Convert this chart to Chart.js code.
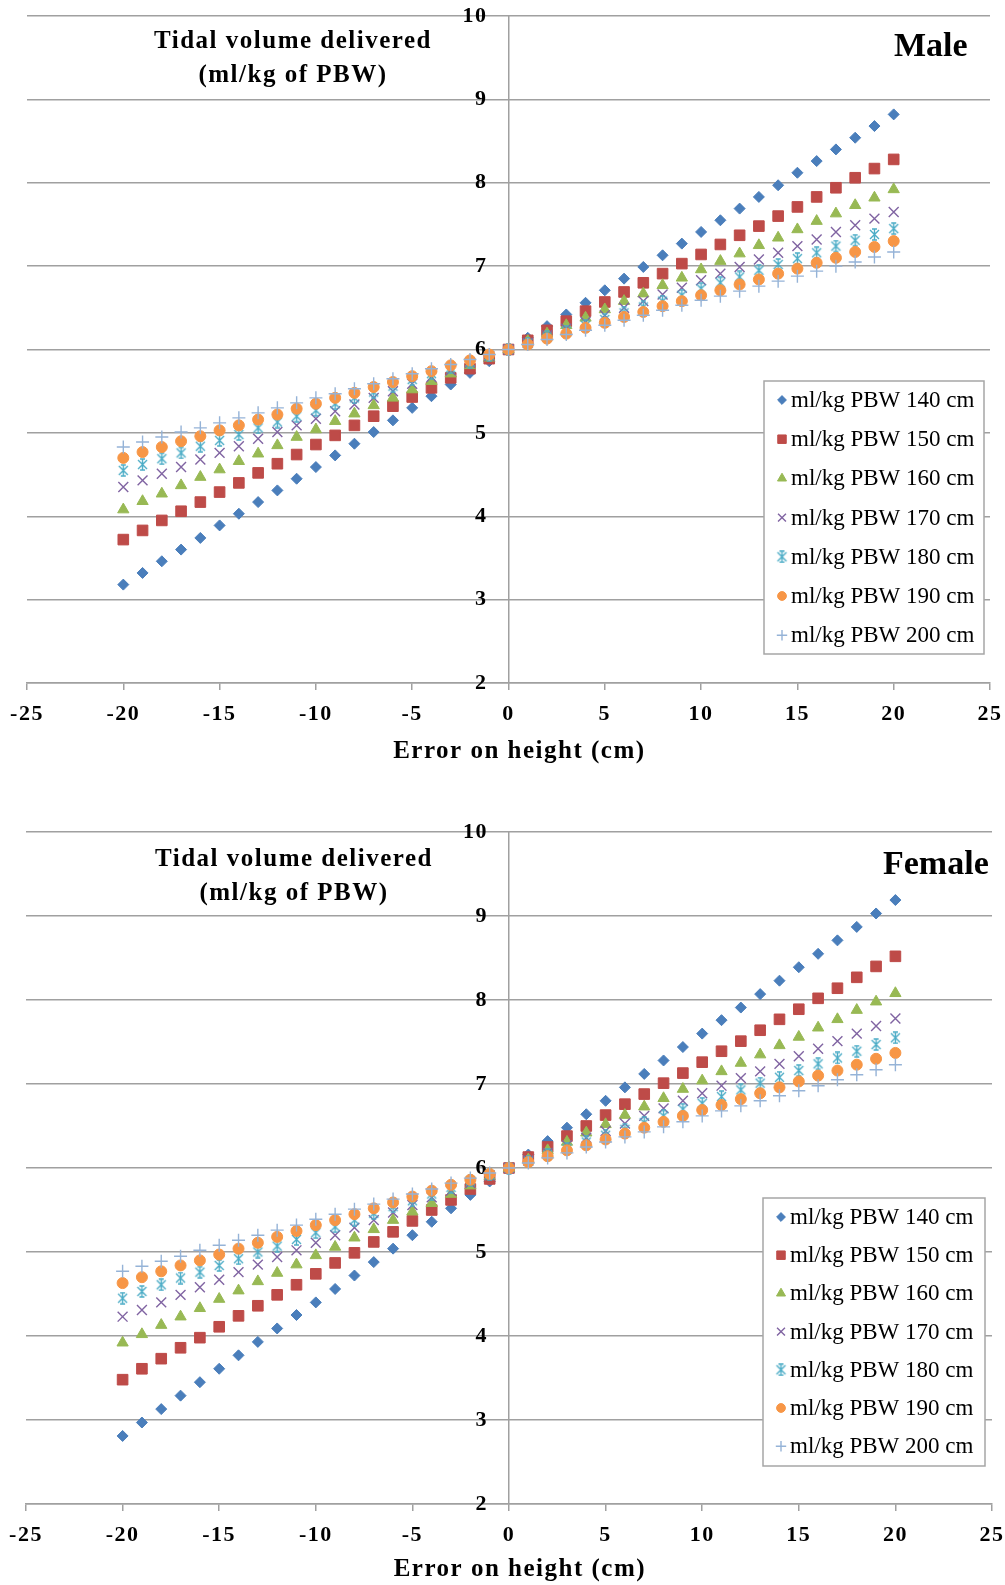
<!DOCTYPE html>
<html>
<head>
<meta charset="utf-8">
<script src="https://cdn.jsdelivr.net/npm/chart.js@4.4.1/dist/chart.umd.min.js"></script>
<style>
  body { margin: 0; background: #fff; width: 1005px; height: 1585px; overflow: hidden; position: relative; font-family: 'Liberation Serif', 'Times New Roman', serif; }
  .panel { position: absolute; left: 0; width: 1005px; }
  .ytitle { position: absolute; width: 400px; text-align: center; font-weight: bold; font-size: 25px; line-height: 34px; letter-spacing: 1.5px; color: #000; }
  .sex { position: absolute; font-weight: bold; font-size: 34px; line-height: 40px; color: #000; }
</style>
</head>
<body>
<div class="panel" style="top:0;height:783px"><canvas id="maleChart"></canvas></div>
<div class="panel" style="top:793px;height:792px"><canvas id="femaleChart"></canvas></div>

<div class="ytitle" style="left:93px;top:23px">Tidal volume delivered<br>(ml/kg of PBW)</div>
<div class="sex" style="left:894px;top:25px">Male</div>
<div class="ytitle" style="left:94px;top:841px">Tidal volume delivered<br>(ml/kg of PBW)</div>
<div class="sex" style="left:883px;top:843px">Female</div>

<script>
// x values: error on measured height (cm)
const heightError = [-20,-19,-18,-17,-16,-15,-14,-13,-12,-11,-10,-9,-8,-7,-6,-5,-4,-3,-2,-1,0,1,2,3,4,5,6,7,8,9,10,11,12,13,14,15,16,17,18,19,20];

const seriesLabels = ['ml/kg PBW 140 cm','ml/kg PBW 150 cm','ml/kg PBW 160 cm','ml/kg PBW 170 cm','ml/kg PBW 180 cm','ml/kg PBW 190 cm','ml/kg PBW 200 cm'];

// Male - tidal volume delivered (ml/kg of PBW)
const maleVt140 = [3.18,3.32,3.46,3.60,3.74,3.89,4.03,4.17,4.31,4.45,4.59,4.73,4.87,5.01,5.15,5.30,5.44,5.58,5.72,5.86,6.00,6.14,6.28,6.42,6.56,6.71,6.85,6.99,7.13,7.27,7.41,7.55,7.69,7.83,7.97,8.12,8.26,8.40,8.54,8.68,8.82];
const maleVt150 = [3.72,3.83,3.95,4.06,4.17,4.29,4.40,4.52,4.63,4.74,4.86,4.97,5.09,5.20,5.32,5.43,5.54,5.66,5.77,5.89,6.00,6.11,6.23,6.34,6.46,6.57,6.69,6.80,6.91,7.03,7.14,7.26,7.37,7.48,7.60,7.71,7.83,7.94,8.06,8.17,8.28];
const maleVt160 = [4.08,4.18,4.27,4.37,4.47,4.56,4.66,4.75,4.85,4.95,5.04,5.14,5.23,5.33,5.42,5.52,5.62,5.71,5.81,5.90,6.00,6.10,6.19,6.29,6.38,6.48,6.58,6.67,6.77,6.86,6.96,7.06,7.15,7.25,7.34,7.44,7.54,7.63,7.73,7.82,7.92];
const maleVt170 = [4.35,4.43,4.51,4.59,4.68,4.76,4.84,4.93,5.01,5.09,5.17,5.26,5.34,5.42,5.50,5.59,5.67,5.75,5.84,5.92,6.00,6.08,6.17,6.25,6.33,6.41,6.50,6.58,6.66,6.74,6.83,6.91,6.99,7.08,7.16,7.24,7.32,7.41,7.49,7.57,7.65];
const maleVt180 = [4.55,4.62,4.69,4.76,4.84,4.91,4.98,5.06,5.13,5.20,5.27,5.35,5.42,5.49,5.56,5.64,5.71,5.78,5.85,5.93,6.00,6.07,6.15,6.22,6.29,6.36,6.44,6.51,6.58,6.65,6.73,6.80,6.87,6.95,7.02,7.09,7.16,7.24,7.31,7.38,7.45];
const maleVt190 = [4.70,4.77,4.83,4.90,4.96,5.03,5.09,5.16,5.22,5.29,5.35,5.42,5.48,5.55,5.61,5.68,5.74,5.81,5.87,5.94,6.00,6.06,6.13,6.19,6.26,6.32,6.39,6.45,6.52,6.58,6.65,6.71,6.78,6.84,6.91,6.97,7.04,7.10,7.17,7.23,7.30];
const maleVt200 = [4.83,4.89,4.95,5.01,5.06,5.12,5.18,5.24,5.30,5.36,5.42,5.47,5.53,5.59,5.65,5.71,5.77,5.82,5.88,5.94,6.00,6.06,6.12,6.18,6.23,6.29,6.35,6.41,6.47,6.53,6.59,6.64,6.70,6.76,6.82,6.88,6.94,7.00,7.05,7.11,7.17];

// Female - tidal volume delivered (ml/kg of PBW)
const femaleVt140 = [2.81,2.97,3.13,3.29,3.45,3.61,3.77,3.93,4.09,4.25,4.40,4.56,4.72,4.88,5.04,5.20,5.36,5.52,5.68,5.84,6.00,6.16,6.32,6.48,6.64,6.80,6.96,7.12,7.28,7.44,7.60,7.76,7.91,8.07,8.23,8.39,8.55,8.71,8.87,9.03,9.19];
const femaleVt150 = [3.48,3.61,3.73,3.86,3.98,4.11,4.24,4.36,4.49,4.61,4.74,4.87,4.99,5.12,5.24,5.37,5.50,5.62,5.75,5.87,6.00,6.13,6.25,6.38,6.50,6.63,6.76,6.88,7.01,7.13,7.26,7.39,7.51,7.64,7.77,7.89,8.02,8.14,8.27,8.40,8.52];
const femaleVt160 = [3.92,4.02,4.13,4.23,4.33,4.44,4.54,4.65,4.75,4.85,4.96,5.06,5.17,5.27,5.38,5.48,5.58,5.69,5.79,5.90,6.00,6.10,6.21,6.31,6.42,6.52,6.63,6.73,6.83,6.94,7.04,7.15,7.25,7.35,7.46,7.56,7.67,7.77,7.88,7.98,8.08];
const femaleVt170 = [4.23,4.31,4.40,4.49,4.58,4.67,4.76,4.85,4.94,5.02,5.11,5.20,5.29,5.38,5.47,5.56,5.65,5.73,5.82,5.91,6.00,6.09,6.18,6.27,6.36,6.44,6.53,6.62,6.71,6.80,6.89,6.98,7.07,7.15,7.24,7.33,7.42,7.51,7.60,7.69,7.78];
const femaleVt180 = [4.45,4.53,4.61,4.69,4.76,4.84,4.92,5.00,5.07,5.15,5.23,5.30,5.38,5.46,5.54,5.61,5.69,5.77,5.85,5.92,6.00,6.08,6.16,6.23,6.31,6.39,6.46,6.54,6.62,6.70,6.77,6.85,6.93,7.01,7.08,7.16,7.24,7.31,7.39,7.47,7.55];
const femaleVt190 = [4.63,4.70,4.77,4.84,4.90,4.97,5.04,5.11,5.18,5.25,5.32,5.38,5.45,5.52,5.59,5.66,5.73,5.80,5.86,5.93,6.00,6.07,6.14,6.21,6.27,6.34,6.41,6.48,6.55,6.62,6.69,6.75,6.82,6.89,6.96,7.03,7.10,7.16,7.23,7.30,7.37];
const femaleVt200 = [4.77,4.83,4.89,4.95,5.02,5.08,5.14,5.20,5.26,5.32,5.39,5.45,5.51,5.57,5.63,5.69,5.75,5.82,5.88,5.94,6.00,6.06,6.12,6.18,6.25,6.31,6.37,6.43,6.49,6.55,6.62,6.68,6.74,6.80,6.86,6.92,6.98,7.05,7.11,7.17,7.23];

const xTicks = [-25,-20,-15,-10,-5,0,5,10,15,20,25];
const yTicks = [2,3,4,5,6,7,8,9,10];

Chart.defaults.font.family = "'Liberation Serif', 'Times New Roman', serif";
Chart.defaults.color = '#000';

// excel-like "star" marker: X with a vertical bar
function starMarker(color) {
    const c = document.createElement('canvas');
    c.width = 13; c.height = 13;
    const g = c.getContext('2d');
    g.strokeStyle = color;
    g.lineWidth = 1.4;
    g.beginPath();
    g.moveTo(2, 2); g.lineTo(11, 11);
    g.moveTo(11, 2); g.lineTo(2, 11);
    g.moveTo(6.5, 0.5); g.lineTo(6.5, 12.5);
    g.moveTo(4, 1); g.lineTo(9, 1);
    g.moveTo(4, 12); g.lineTo(9, 12);
    g.stroke();
    return c;
}

const markerStyles = [
    { color: '#4A7EBB', pointStyle: 'rectRot', radius: 5.5, border: 1 },
    { color: '#BE4B48', pointStyle: 'rect', radius: 7.5, border: 1 },
    { color: '#98B954', pointStyle: 'triangle', radius: 6.5, border: 1 },
    { color: '#8064A2', pointStyle: 'crossRot', radius: 7, border: 1.4 },
    { color: '#4BACC6', pointStyle: starMarker('#4BACC6'), radius: 6, border: 1 },
    { color: '#F79646', pointStyle: 'circle', radius: 5.5, border: 1 },
    { color: '#95B3D7', pointStyle: 'cross', radius: 6.5, border: 1.4 }
];

// wider letter spacing, the original text is set loosely
const looseText = {
    id: 'looseText',
    beforeDraw(chart) { chart.ctx.letterSpacing = '1.5px'; }
};

// legend drawn in a box inside the plot area, like the original
const boxLegend = {
    id: 'boxLegend',
    afterDatasetsDraw(chart, args, opts) {
        const { ctx, chartArea } = chart;
        const x0 = chartArea.right - opts.right - opts.width;
        const y0 = chartArea.top + opts.top;
        ctx.save();
        ctx.letterSpacing = '0px';
        ctx.fillStyle = '#fff';
        ctx.fillRect(x0, y0, opts.width, opts.height);
        ctx.strokeStyle = '#a6a6a6';
        ctx.lineWidth = 1.5;
        ctx.strokeRect(x0, y0, opts.width, opts.height);
        chart.data.datasets.forEach((ds, i) => {
            const y = y0 + opts.firstRow + i * opts.rowGap;
            ctx.fillStyle = ds.backgroundColor;
            ctx.strokeStyle = ds.borderColor;
            ctx.lineWidth = ds.borderWidth;
            Chart.helpers.drawPoint(ctx, {
                pointStyle: ds.pointStyle,
                radius: ds.pointRadius * 0.8,
                borderWidth: ds.borderWidth,
                rotation: 0
            }, x0 + 18, y);
            ctx.fillStyle = '#000';
            ctx.font = "23px 'Liberation Serif', serif";
            ctx.textBaseline = 'middle';
            ctx.textAlign = 'left';
            ctx.fillText(ds.label, x0 + 27, y + 1);
        });
        ctx.restore();
    }
};

function makeChart(id, seriesValues, layout) {
    const datasets = seriesValues.map((vals, i) => ({
        label: seriesLabels[i],
        data: heightError.map((e, j) => ({ x: e, y: vals[j] })),
        pointStyle: markerStyles[i].pointStyle,
        pointRadius: markerStyles[i].radius,
        backgroundColor: markerStyles[i].color,
        borderColor: markerStyles[i].color,
        borderWidth: markerStyles[i].border,
        showLine: false,
        order: seriesValues.length - i // later series on top, as in the original
    }));

    return new Chart(document.getElementById(id), {
        type: 'scatter',
        data: { datasets: datasets },
        options: {
            responsive: true,
            maintainAspectRatio: false,
            animation: false,
            layout: { padding: layout.padding },
            plugins: {
                legend: { display: false },
                tooltip: { enabled: false },
                boxLegend: layout.legend
            },
            scales: {
                x: {
                    type: 'linear',
                    position: 'bottom',
                    min: -25,
                    max: 25,
                    afterBuildTicks: (scale) => { scale.ticks = xTicks.map(v => ({ value: v })); },
                    afterFit: (scale) => {
                        scale.height = layout.xAxisHeight;
                        scale.paddingLeft = 0;
                        scale.paddingRight = 0;
                    },
                    ticks: { font: { size: 22, weight: 'bold' }, padding: 11, maxRotation: 0 },
                    grid: { drawOnChartArea: false, drawTicks: true, tickLength: 7, color: '#a0a0a0', lineWidth: 1.5 },
                    border: { color: '#a0a0a0', width: 1.5 },
                    title: {
                        display: true,
                        // the original title sits a bit right of centre
                        text: '\u2002 Error on height (cm)',
                        font: { size: 25, weight: 'bold' },
                        padding: { top: 0, bottom: layout.titleBottom }
                    }
                },
                y: {
                    type: 'linear',
                    position: { x: 0 },
                    min: 2,
                    max: 10,
                    afterBuildTicks: (scale) => { scale.ticks = yTicks.map(v => ({ value: v })); },
                    afterFit: (scale) => { scale.paddingTop = 0; scale.paddingBottom = 0; },
                    ticks: {
                        font: { size: 22, weight: 'bold' },
                        callback: (v) => v + '   ' // labels sit a little left of the axis
                    },
                    grid: { color: '#a0a0a0', lineWidth: 1.5, drawTicks: false },
                    border: { color: '#a0a0a0', width: 1.5 }
                }
            }
        },
        plugins: [looseText, boxLegend]
    });
}

makeChart('maleChart', [maleVt140, maleVt150, maleVt160, maleVt170, maleVt180, maleVt190, maleVt200], {
    padding: { left: 27, right: 15, top: 16, bottom: 0 },
    xAxisHeight: 100,
    titleBottom: 16,
    legend: { right: 6, width: 220, top: 365, height: 273, firstRow: 19, rowGap: 39.2 }
});

makeChart('femaleChart', [femaleVt140, femaleVt150, femaleVt160, femaleVt170, femaleVt180, femaleVt190, femaleVt200], {
    padding: { left: 26, right: 13, top: 39, bottom: 0 },
    xAxisHeight: 81,
    titleBottom: 0,
    legend: { right: 7, width: 222, top: 366, height: 268, firstRow: 19, rowGap: 38.2 }
});
</script>
</body>
</html>
